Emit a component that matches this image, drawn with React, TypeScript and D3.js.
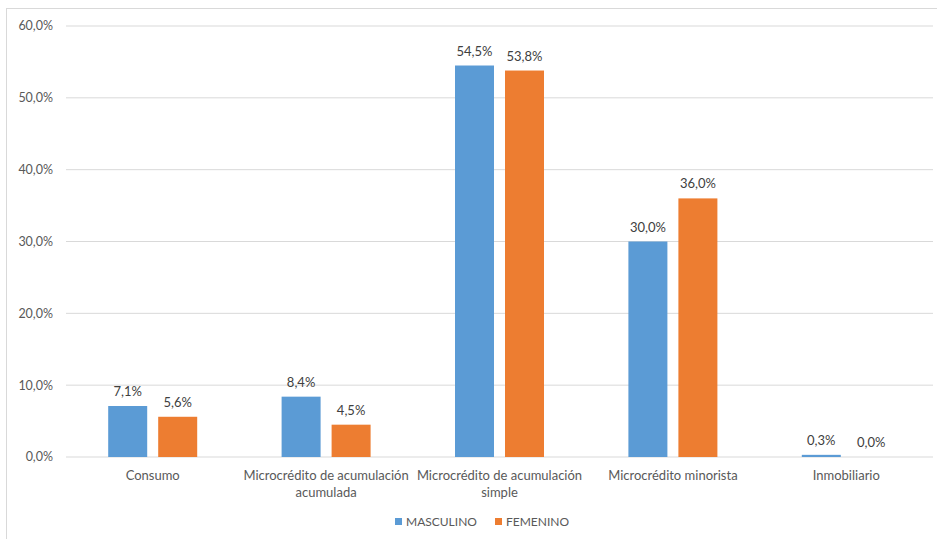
import * as d3 from "d3";

const categories = [
  "Consumo",
  "Microcrédito de acumulación acumulada",
  "Microcrédito de acumulación simple",
  "Microcrédito minorista",
  "Inmobiliario",
];
const masculino = [7.1, 8.4, 54.5, 30.0, 0.3];
const femenino = [5.6, 4.5, 53.8, 36.0, 0.0];
const seriesNames = ["MASCULINO", "FEMENINO"];
const seriesColors = ["#5B9BD5", "#ED7D31"];
const yTicks = [0, 10, 20, 30, 40, 50, 60];

const width = 937;
const height = 539;
const marginLeft = 66;
const marginRight = 4;
const marginTop = 26;
const plotBottom = 457;
const font = "Lato, 'Noto Sans', sans-serif";

const fmt = (v: number) => v.toFixed(1).replace(".", ",");

// split a label into lines that fit within the band (rough char estimate)
function wrap(label: string, maxChars: number): string[] {
  const words = label.split(" ");
  const lines: string[] = [];
  let cur = "";
  for (const w of words) {
    const next = cur ? cur + " " + w : w;
    if (next.length > maxChars && cur) {
      lines.push(cur);
      cur = w;
    } else cur = next;
  }
  if (cur) lines.push(cur);
  return lines;
}

export default function App() {
  const x = d3
    .scaleBand<string>()
    .domain(categories)
    .range([marginLeft, width - marginRight]);

  const y = d3.scaleLinear().domain([0, 60]).range([plotBottom, marginTop]);

  const barW = 39;
  const gap = 11;
  const series = [masculino, femenino];

  return (
    <svg
      width={width}
      height={height}
      style={{ position: "absolute", left: 0, top: 0, background: "#fff" }}
      fontFamily={font}
    >
      <rect x={6.5} y={8.5} width={width + 10} height={height + 10} fill="#fff" stroke="#D9D9D9" />
      {yTicks.map((t) => (
        <g key={t}>
          <line
            x1={marginLeft}
            x2={width - marginRight}
            y1={y(t)}
            y2={y(t)}
            stroke="#D9D9D9"
            strokeWidth={1}
          />
          <text
            x={53}
            y={y(t)}
            dy="0.35em"
            textAnchor="end"
            fontSize={12.5}
            fill="#595959"
          >
            {fmt(t)}%
          </text>
        </g>
      ))}
      {categories.map((c, i) => {
        const cx = x(c)! + x.bandwidth() / 2;
        return (
          <g key={c}>
            {series.map((s, k) => {
              const bx = k === 0 ? cx - gap / 2 - barW : cx + gap / 2;
              const top = y(s[i]);
              return (
                <g key={k}>
                  <rect
                    x={bx}
                    y={top}
                    width={barW}
                    height={plotBottom - top}
                    fill={seriesColors[k]}
                  />
                  <text
                    x={bx + barW / 2}
                    y={top - 10}
                    textAnchor="middle"
                    fontSize={13}
                    fill="#404040"
                  >
                    {fmt(s[i])}%
                  </text>
                </g>
              );
            })}
            {wrap(c, 28).map((line, j) => (
              <text
                key={j}
                x={cx}
                y={480 + j * 17}
                textAnchor="middle"
                fontSize={13}
                fill="#595959"
              >
                {line}
              </text>
            ))}
          </g>
        );
      })}
      <g>
        {seriesNames.map((n, k) => {
          const lx = k === 0 ? 395 : 495;
          return (
            <g key={n}>
              <rect x={lx} y={518} width={7} height={7} fill={seriesColors[k]} />
              <text x={lx + 11} y={526} fontSize={12} fill="#595959">
                {n}
              </text>
            </g>
          );
        })}
      </g>
    </svg>
  );
}
